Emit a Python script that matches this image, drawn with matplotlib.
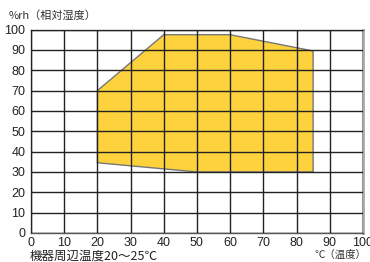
import matplotlib
matplotlib.use('Agg')
import matplotlib.pyplot as plt

plt.rcParams['font.family'] = ['Noto Sans CJK JP', 'DejaVu Sans']

# operating range polygon (temperature, humidity)
temp = [20, 20, 40, 60, 85, 85, 50]
hum = [34.5, 70, 97.5, 97.5, 89.5, 30, 30]

ticks = [0, 10, 20, 30, 40, 50, 60, 70, 80, 90, 100]

fig = plt.figure(figsize=(3.7, 2.62), dpi=100)
ax = fig.add_axes([0.0838, 0.111, 0.897, 0.776])

ax.fill(temp, hum, facecolor='#fdd23c', edgecolor='#777777', linewidth=1, zorder=1)

ax.set_xlim(0, 100)
ax.set_ylim(0, 100)
ax.set_xticks(ticks)
ax.set_yticks(ticks)
ax.grid(True, color='#222222', linewidth=1, zorder=2)
ax.set_axisbelow(False)
for s in ax.spines.values():
    s.set_color('#555555')
    s.set_linewidth(1)
ax.spines['right'].set_color('#aaaaaa')
ax.spines['right'].set_linewidth(2)
ax.tick_params(length=0, labelsize=9, colors='#222222')
ax.tick_params(axis='x', pad=3)
ax.tick_params(axis='y', pad=4)
for lab in ax.get_xticklabels() + ax.get_yticklabels():
    lab.set_family('Liberation Sans')

fig.text(0.022, 0.94, '%rh（相対湿度）', fontsize=8, color='#333333', va='center')
fig.text(0.08, -0.002, '機器周辺温度20～25℃', fontsize=9, color='#222222', va='bottom')
fig.text(0.99, 0.01, '℃（温度）', fontsize=7.5, color='#333333', va='bottom', ha='right')

fig.savefig('out.png', dpi=100)
